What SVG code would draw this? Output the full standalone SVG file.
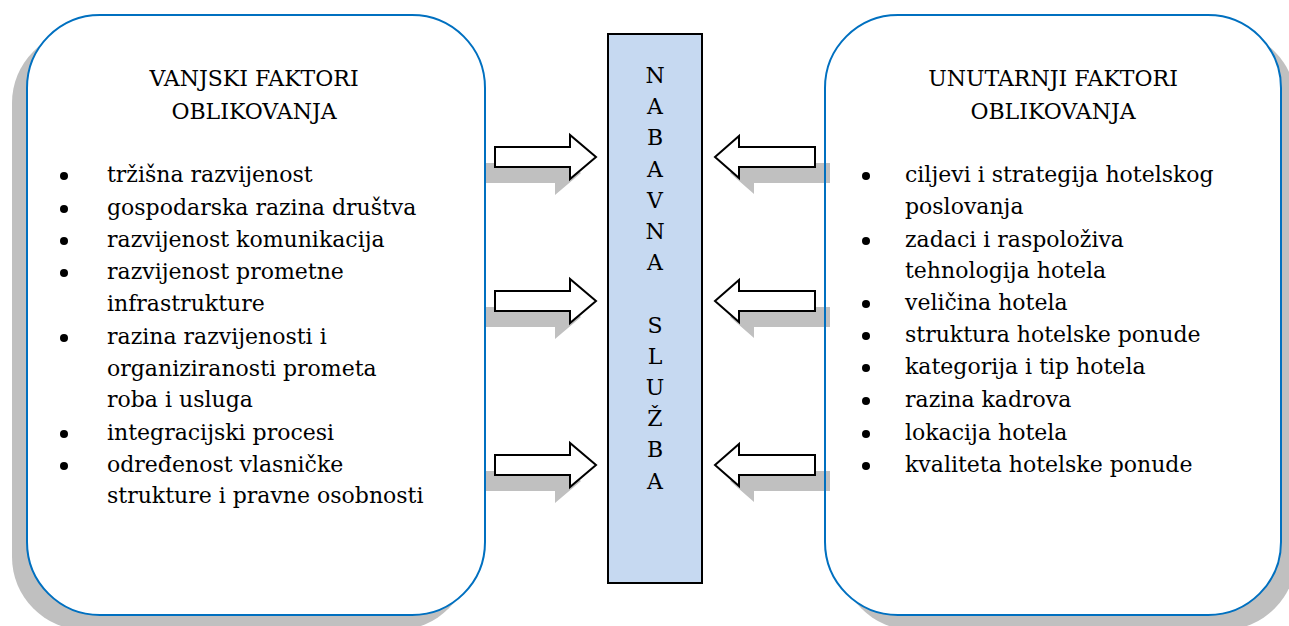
<svg xmlns="http://www.w3.org/2000/svg" width="1289" height="626" viewBox="0 0 1289 626">
<style>
.t{font-family:"DejaVu Serif","Liberation Serif",serif;font-size:22px;fill:#000}
.c{text-anchor:middle}
.sh{fill:#c0c0c0}
.box{fill:#fff;stroke:none}
.bst{fill:none;stroke:#0070c0;stroke-width:2}
.arr{fill:#fff;stroke:#000;stroke-width:2;stroke-linejoin:miter}
</style>
<defs>
<path id="ra" d="M0,-10 H75 V-22 L101,0 L75,22 V10 H0 Z"/>
<path id="la" d="M0,-10 H-76 V-21 L-100,0 L-76,21 V10 H0 Z"/>
</defs>
<rect width="1289" height="626" fill="#fff"/>
<!-- box shadows -->
<rect class="sh" x="12" y="30" width="458" height="600" rx="73" ry="73"/>
<rect class="sh" x="840" y="30" width="456" height="600" rx="73" ry="73"/>
<!-- box fills -->
<rect class="box" x="27" y="15" width="458" height="600" rx="73" ry="73"/>
<rect class="box" x="825" y="15" width="456" height="600" rx="73" ry="73"/>
<g id="connectors">
<g class="sh">
<path d="M486,163 H555 V151 L581,173 L555,195 V183 H486 Z"/>
<path d="M486,307 H555 V295 L581,317 L555,339 V327 H486 Z"/>
<path d="M486,471 H555 V459 L581,481 L555,503 V491 H486 Z"/>
<use href="#la" x="830" y="173"/>
<use href="#la" x="830" y="317"/>
<use href="#la" x="830" y="481"/>
</g>
<use class="arr" href="#ra" x="495" y="157"/>
<use class="arr" href="#ra" x="495" y="301"/>
<use class="arr" href="#ra" x="495" y="465"/>
<use class="arr" href="#la" x="815" y="157"/>
<use class="arr" href="#la" x="815" y="301"/>
<use class="arr" href="#la" x="815" y="465"/>
</g>
<g id="left-node">
<rect class="bst" x="27" y="15" width="458" height="600" rx="73" ry="73"/>
<text class="t c" x="254" y="86">VANJSKI FAKTORI</text>
<text class="t c" x="254" y="119">OBLIKOVANJA</text>
<g fill="#000">
<circle cx="64" cy="176" r="4"/>
<circle cx="64" cy="209" r="4"/>
<circle cx="64" cy="241" r="4"/>
<circle cx="64" cy="273" r="4"/>
<circle cx="64" cy="338" r="4"/>
<circle cx="64" cy="434" r="4"/>
<circle cx="64" cy="466" r="4"/>
</g>
<text class="t" x="107" y="182">tržišna razvijenost</text>
<text class="t" x="107" y="215">gospodarska razina društva</text>
<text class="t" x="107" y="247">razvijenost komunikacija</text>
<text class="t" x="107" y="279">razvijenost prometne</text>
<text class="t" x="107" y="311">infrastrukture</text>
<text class="t" x="107" y="344">razina razvijenosti i</text>
<text class="t" x="107" y="376">organiziranosti prometa</text>
<text class="t" x="107" y="407">roba i usluga</text>
<text class="t" x="107" y="440">integracijski procesi</text>
<text class="t" x="107" y="472">određenost vlasničke</text>
<text class="t" x="107" y="503">strukture i pravne osobnosti</text>
</g>
<g id="right-node">
<rect class="bst" x="825" y="15" width="456" height="600" rx="73" ry="73"/>
<text class="t c" x="1053" y="86">UNUTARNJI FAKTORI</text>
<text class="t c" x="1053" y="119">OBLIKOVANJA</text>
<g fill="#000">
<circle cx="866" cy="176" r="4"/>
<circle cx="866" cy="241" r="4"/>
<circle cx="866" cy="304" r="4"/>
<circle cx="866" cy="336" r="4"/>
<circle cx="866" cy="368" r="4"/>
<circle cx="866" cy="401" r="4"/>
<circle cx="866" cy="434" r="4"/>
<circle cx="866" cy="466" r="4"/>
</g>
<text class="t" x="905" y="182">ciljevi i strategija hotelskog</text>
<text class="t" x="905" y="214">poslovanja</text>
<text class="t" x="905" y="247">zadaci i raspoloživa</text>
<text class="t" x="905" y="278">tehnologija hotela</text>
<text class="t" x="905" y="310">veličina hotela</text>
<text class="t" x="905" y="342">struktura hotelske ponude</text>
<text class="t" x="905" y="374">kategorija i tip hotela</text>
<text class="t" x="905" y="407">razina kadrova</text>
<text class="t" x="905" y="440">lokacija hotela</text>
<text class="t" x="905" y="472">kvaliteta hotelske ponude</text>
</g>
<g id="center-node">
<rect x="608" y="34" width="94" height="549" fill="#c6d9f1" stroke="#000" stroke-width="2"/>
<g class="t c">
<text x="655" y="83">N</text>
<text x="655" y="114">A</text>
<text x="655" y="145">B</text>
<text x="655" y="177">A</text>
<text x="655" y="208">V</text>
<text x="655" y="239">N</text>
<text x="655" y="270">A</text>
<text x="655" y="333">S</text>
<text x="655" y="364">L</text>
<text x="655" y="395">U</text>
<text x="655" y="426">Ž</text>
<text x="655" y="457">B</text>
<text x="655" y="489">A</text>
</g>
</g>
</svg>
